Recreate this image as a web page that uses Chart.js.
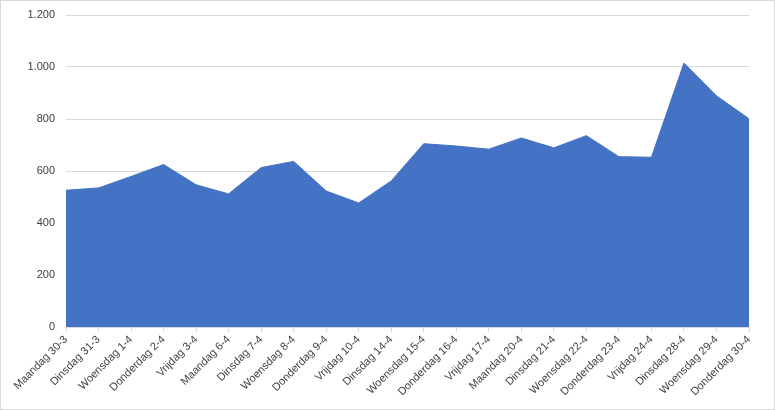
<!DOCTYPE html>
<html>
<head>
<meta charset="utf-8">
<title>Aantal per dag</title>
<script src="https://cdn.jsdelivr.net/npm/chart.js@4/dist/chart.umd.min.js"></script>
<style>
    html, body { margin: 0; padding: 0; background: #fff; }
    .frame {
        width: 775px;
        height: 410px;
        box-sizing: border-box;
        border: 1px solid #d9d9d9;
        position: relative;
    }
    .frame canvas { display: block; }
</style>
</head>
<body>
<div class="frame">
    <canvas id="areaChart" width="773" height="408"></canvas>
</div>
<script>
"use strict";

const days = [
    "Maandag 30-3", "Dinsdag 31-3", "Woensdag 1-4", "Donderdag 2-4", "Vrijdag 3-4",
    "Maandag 6-4", "Dinsdag 7-4", "Woensdag 8-4", "Donderdag 9-4", "Vrijdag 10-4",
    "Dinsdag 14-4", "Woensdag 15-4", "Donderdag 16-4", "Vrijdag 17-4", "Maandag 20-4",
    "Dinsdag 21-4", "Woensdag 22-4", "Donderdag 23-4", "Vrijdag 24-4", "Dinsdag 28-4",
    "Woensdag 29-4", "Donderdag 30-4"
];

const counts = [
    526, 535, 579, 625, 547,
    512, 613, 637, 523, 477,
    562, 705, 696, 684, 727,
    689, 736, 655, 653, 1015,
    889, 801
];

const yTicks = [0, 200, 400, 600, 800, 1000, 1200];

const FONT = { family: "'Liberation Sans', Arial, sans-serif", size: 11 };

// Dutch thousands separator: 1000 -> 1.000
function formatNL(v) {
    return String(v).replace(/\B(?=(\d{3})+(?!\d))/g, ".");
}

function renderChart() {
    const ctx = document.getElementById("areaChart").getContext("2d");

    new Chart(ctx, {
        type: "line",
        data: {
            labels: days,
            datasets: [{
                data: counts,
                fill: "origin",
                backgroundColor: "#4472c4",
                borderColor: "#4472c4",
                borderWidth: 1,
                pointRadius: 0,
                tension: 0
            }]
        },
        options: {
            responsive: false,
            animation: false,
            layout: { padding: { top: 14, right: 25, left: 0, bottom: 4 } },
            plugins: {
                legend: { display: false },
                tooltip: { enabled: false }
            },
            scales: {
                x: {
                    offset: false,
                    grid: {
                        display: true,
                        drawOnChartArea: false,
                        drawTicks: true,
                        tickLength: 5,
                        color: "#d9d9d9"
                    },
                    border: { display: true, color: "#d9d9d9" },
                    ticks: {
                        color: "#404040",
                        font: FONT,
                        autoSkip: false,
                        maxRotation: 45,
                        minRotation: 45,
                        padding: 1
                    },
                    afterFit: scale => { scale.height = 78; }
                },
                y: {
                    min: yTicks[0],
                    max: yTicks[yTicks.length - 1],
                    afterBuildTicks: scale => {
                        scale.ticks = yTicks.map(v => ({ value: v }));
                    },
                    grid: {
                        color: "#d9d9d9",
                        drawTicks: false
                    },
                    border: { display: false },
                    ticks: {
                        color: "#404040",
                        font: FONT,
                        padding: 11,
                        callback: v => formatNL(v)
                    },
                    afterFit: scale => {
                        scale.width = 65;
                        scale.paddingTop = 0;
                    }
                }
            }
        }
    });
}

renderChart();
</script>
</body>
</html>
